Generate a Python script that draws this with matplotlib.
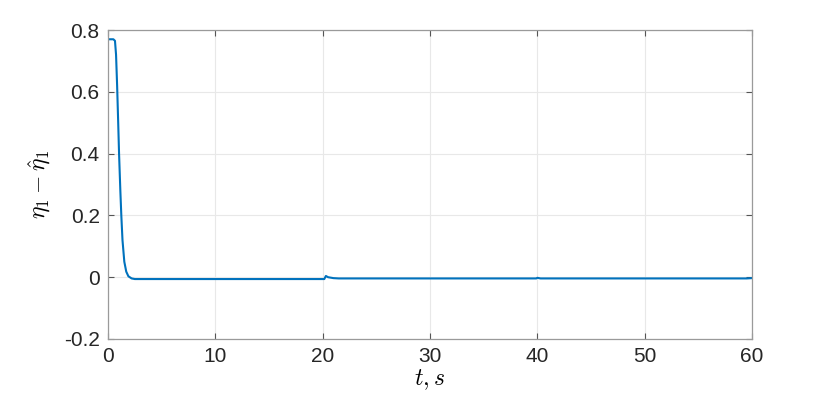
import matplotlib
matplotlib.use("Agg")
import matplotlib.pyplot as plt
import numpy as np

# estimation error
t = [0.0, 0.5, 0.65, 0.75, 0.85, 0.95, 1.03, 1.15, 1.24, 1.35, 1.52, 1.7, 1.9, 2.2, 2.5, 3.0,
     10.0, 20.0, 20.15, 20.3, 20.5, 21.0, 21.5, 30.0, 39.9, 40.0, 40.3, 40.8, 50.0, 59.5, 60.0]
err = [0.77, 0.77, 0.765, 0.72, 0.62, 0.50, 0.40, 0.28, 0.20, 0.12, 0.05, 0.018, 0.003, -0.004, -0.006, -0.006,
       -0.006, -0.006, -0.006, 0.004, 0.0, -0.003, -0.004, -0.004, -0.004, -0.002, -0.004, -0.004,
       -0.004, -0.004, -0.003]

xticks = [0, 10, 20, 30, 40, 50, 60]
yticks = [-0.2, 0, 0.2, 0.4, 0.6, 0.8]
yticklabels = ["-0.2", "0", "0.2", "0.4", "0.6", "0.8"]

plt.rcParams['font.family'] = ['Liberation Sans', 'DejaVu Sans']
plt.rcParams['mathtext.fontset'] = 'cm'

fig = plt.figure(figsize=(8.3, 4.01), dpi=100)
ax = fig.add_axes([108 / 830, 1 - 339 / 401, 644 / 830, 309 / 401])

ax.plot(t, err, color='#0072BD', lw=1.5)
ax.set_xlim(0, 60)
ax.set_ylim(-0.2, 0.8)
ax.set_xticks(xticks)
ax.set_yticks(yticks)
ax.set_yticklabels(yticklabels)
ax.grid(True, color='#e8e8e8', lw=0.8)
ax.set_axisbelow(True)
for s in ax.spines.values():
    s.set_color('#9a9a9a')
    s.set_linewidth(0.9)
ax.tick_params(direction='in', length=4, width=0.8, color='#555555', labelcolor='#262626',
               labelsize=15, top=True, right=True, pad=6)
ax.set_xlabel('$t, s$', fontsize=17, labelpad=1)
ax.set_ylabel(r'$\eta_1-\hat{\eta}_1$', fontsize=17, labelpad=8)

plt.savefig('out.png', dpi=100)
